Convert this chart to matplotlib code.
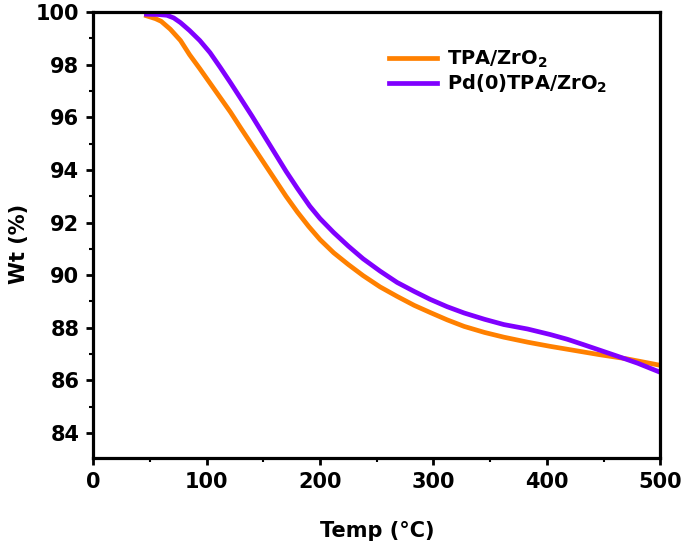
import matplotlib
matplotlib.use("Agg")
import matplotlib.pyplot as plt
from matplotlib.ticker import MultipleLocator

plt.rcParams['font.family'] = ['DejaVu Sans']
plt.rcParams['font.weight'] = 'bold'
plt.rcParams['mathtext.fontset'] = 'custom'
plt.rcParams['mathtext.rm'] = 'DejaVu Sans:bold'
plt.rcParams['mathtext.bf'] = 'DejaVu Sans:bold'
plt.rcParams['mathtext.it'] = 'DejaVu Sans:bold'

# TPA/ZrO2
temp_tpa = [47, 55, 60, 68, 77, 85, 94, 103, 112, 121, 130, 140, 150, 160, 170, 180, 190, 200,
            212, 225, 238, 253, 268, 283, 297, 312, 327, 345, 362, 383, 403, 425, 447, 470, 500]
wt_tpa = [99.86, 99.75, 99.65, 99.35, 98.92, 98.38, 97.85, 97.30, 96.75, 96.2, 95.6, 94.95, 94.3,
          93.65, 93.0, 92.4, 91.85, 91.35, 90.85, 90.4, 89.98, 89.55, 89.19, 88.85, 88.58, 88.3,
          88.05, 87.82, 87.64, 87.45, 87.29, 87.13, 86.97, 86.82, 86.57]

# Pd(0)TPA/ZrO2
temp_pd = [47, 57, 65, 71, 77, 85, 94, 103, 112, 121, 130, 140, 150, 160, 170, 180, 191, 200,
           212, 225, 238, 253, 268, 283, 297, 312, 327, 345, 362, 383, 403, 418, 432, 447, 462, 480, 499]
wt_pd = [99.92, 99.91, 99.88, 99.78, 99.6, 99.3, 98.92, 98.46, 97.9, 97.32, 96.72, 96.05, 95.35,
         94.65, 93.95, 93.3, 92.62, 92.15, 91.62, 91.1, 90.62, 90.15, 89.72, 89.38, 89.08, 88.8,
         88.56, 88.32, 88.12, 87.95, 87.74, 87.56, 87.36, 87.14, 86.92, 86.65, 86.32]

labels = [r'TPA/ZrO$_2$', r'Pd(0)TPA/ZrO$_2$']
colors = ['#FF8000', '#8000FF']
xticks = [0, 100, 200, 300, 400, 500]
yticks = [84, 86, 88, 90, 92, 94, 96, 98, 100]

fig = plt.figure(figsize=(6.85, 5.51), dpi=100)
ax = fig.add_axes([0.136, 0.169, 0.828, 0.809])

ax.plot(temp_tpa, wt_tpa, color=colors[0], lw=3.4, label=labels[0], solid_joinstyle='round')
ax.plot(temp_pd, wt_pd, color=colors[1], lw=3.4, label=labels[1], solid_joinstyle='round')

ax.set_xlim(0, 500)
ax.set_ylim(83.05, 100)
ax.set_xticks(xticks)
ax.set_yticks(yticks)
ax.xaxis.set_minor_locator(MultipleLocator(50))
ax.yaxis.set_minor_locator(MultipleLocator(1))
ax.tick_params(which='major', direction='out', length=5, width=2, labelsize=15, pad=5)
ax.tick_params(which='minor', direction='out', length=3, width=1.5)
ax.tick_params(top=False, right=False, which='both')
for s in ax.spines.values():
    s.set_linewidth(2.3)
for t in ax.get_xticklabels() + ax.get_yticklabels():
    t.set_fontweight('bold')

ax.set_xlabel('Temp (°C)', fontsize=15, fontweight='bold')
ax.set_ylabel('Wt (%)', fontsize=15, fontweight='bold')
ax.xaxis.set_label_coords(0.5, -0.141)
ax.yaxis.set_label_coords(-0.113, 0.48)

leg = ax.legend(loc='upper left', bbox_to_anchor=(0.49, 0.957), frameon=False,
                fontsize=14, handlelength=2.5, handletextpad=0.5, labelspacing=0.15)
for t in leg.get_texts():
    t.set_fontweight('bold')

fig.savefig('out.png', dpi=100)
